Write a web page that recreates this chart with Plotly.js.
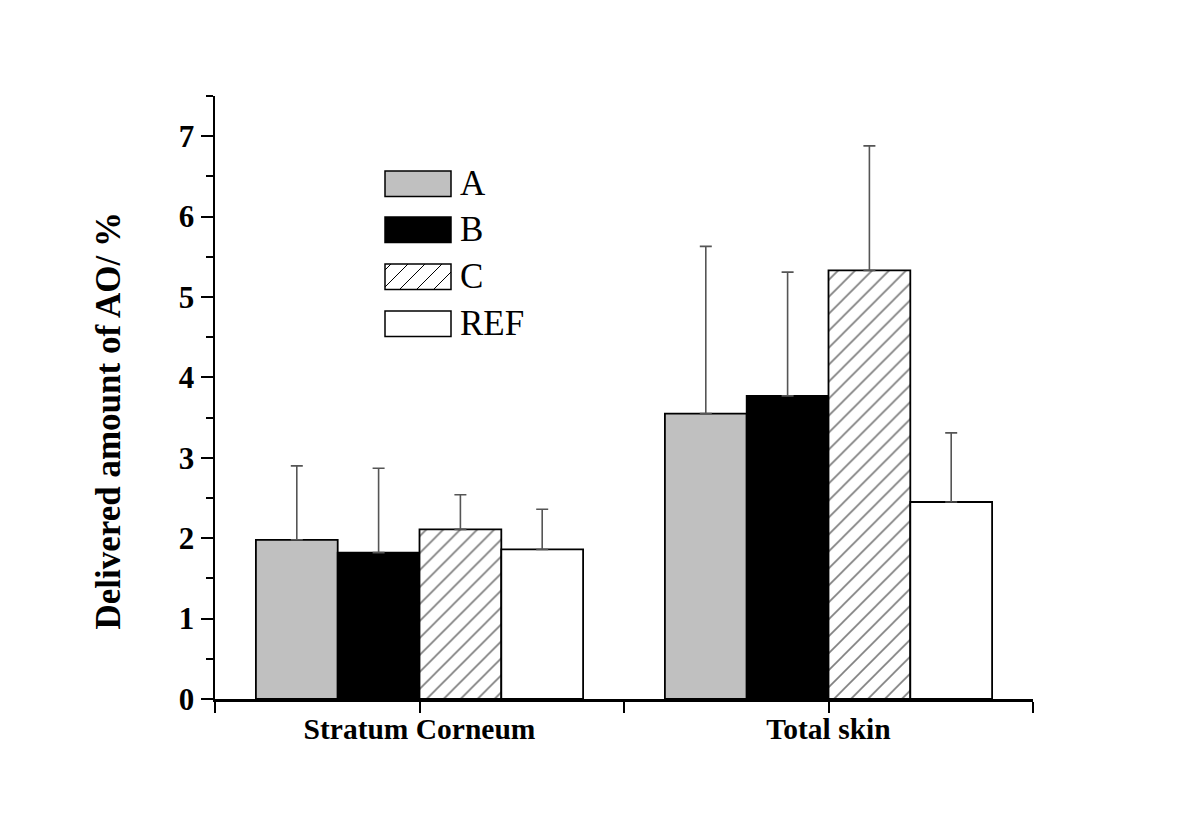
<!DOCTYPE html>
<html>
<head>
<meta charset="utf-8">
<script src="https://cdn.plot.ly/plotly-3.0.1.min.js"></script>
<style>html,body{margin:0;padding:0;background:#fff;}#chart{width:1200px;height:839px;}</style>
</head>
<body>
<div id="chart"></div>
<script>
// ---- data ----
const categories = ['Stratum Corneum', 'Total skin'];
const seriesNames = ['A', 'B', 'C', 'REF'];
const valuesA   = [1.98, 3.55];
const valuesB   = [1.82, 3.77];
const valuesC   = [2.11, 5.33];
const valuesREF = [1.86, 2.45];
const errA   = [0.92, 2.08];
const errB   = [1.05, 1.54];
const errC   = [0.43, 1.55];
const errREF = [0.50, 0.86];
const yTickVals = [0, 1, 2, 3, 4, 5, 6, 7];
const yTitle = 'Delivered amount of AO/ %';

// ---- layout constants ----
const W = 1200, H = 839;
const M = {l: 215, r: 167, t: 96, b: 140};
const PW = W - M.l - M.r, PH = H - M.t - M.b;
const px2x = p => (p - M.l) / PW;
const py2y = p => (H - M.b - p) / PH;

const xIdx = categories.map((c, i) => i);
const serif = 'Liberation Serif, Times New Roman, serif';

const styles = [
  {color: '#c0c0c0', pattern: null},
  {color: '#000000', pattern: null},
  {color: '#ffffff', pattern: {shape: '/', fgcolor: '#000000', bgcolor: '#ffffff', size: 12, solidity: 0.14, fillmode: 'overlay'}},
  {color: '#ffffff', pattern: null}
];
const vals = [valuesA, valuesB, valuesC, valuesREF];
const errs = [errA, errB, errC, errREF];

const traces = seriesNames.map((name, k) => {
  const marker = {color: styles[k].color, line: {color: '#000', width: 1.8}};
  if (styles[k].pattern) marker.pattern = styles[k].pattern;
  return {
    type: 'bar', name: name, x: xIdx, y: vals[k], marker: marker,
    error_y: {type: 'data', symmetric: false, array: errs[k], arrayminus: errs[k].map(() => 0),
              color: '#555555', thickness: 1.6, width: 6},
    showlegend: false, hoverinfo: 'skip'
  };
});

// ---- custom legend (large swatches) ----
const shapes = [], annotations = [];
const legTop = [171, 217, 264, 311], legX0 = 385, legX1 = 451, legH = 25.5;
seriesNames.forEach((name, k) => {
  const y0 = legTop[k], y1 = y0 + legH;
  shapes.push({type: 'rect', xref: 'paper', yref: 'paper',
    x0: px2x(legX0), x1: px2x(legX1), y0: py2y(y1), y1: py2y(y0),
    fillcolor: styles[k].color, line: {color: '#000', width: 1.5}});
  if (styles[k].pattern) {
    const sp = 17, h = legH;
    let d = '';
    for (let s = legX0 - h + 6; s < legX1; s += sp) {
      let xa = s, ya = y1, xb = s + h, yb = y0;
      if (xa < legX0) { ya = y1 - (legX0 - xa); xa = legX0; }
      if (xb > legX1) { yb = y0 + (xb - legX1); xb = legX1; }
      if (xb <= xa) continue;
      d += 'M' + px2x(xa) + ',' + py2y(ya) + 'L' + px2x(xb) + ',' + py2y(yb);
    }
    shapes.push({type: 'path', xref: 'paper', yref: 'paper', path: d, line: {color: '#000', width: 1}});
  }
  annotations.push({xref: 'paper', yref: 'paper', x: px2x(458), y: py2y(y0 + legH / 2),
    xanchor: 'left', yanchor: 'middle', text: name, showarrow: false,
    font: {family: serif, size: 35, color: '#000'}});
});

// y-axis title placed as a rotated annotation (offset from axis centre as in the original)
annotations.push({xref: 'paper', yref: 'paper', x: px2x(107.5), y: py2y(421),
  xanchor: 'center', yanchor: 'middle', textangle: -90, text: yTitle, showarrow: false,
  font: {family: serif, size: 35, color: '#000', weight: 'bold'}});

const layout = {
  width: W, height: H,
  margin: M,
  paper_bgcolor: '#fff', plot_bgcolor: '#fff',
  barmode: 'group', bargap: 0.2, bargroupgap: 0,
  showlegend: false,
  xaxis: {
    range: [-0.5, 1.5], tickmode: 'array',
    tickvals: [-0.5, 0, 0.5, 1, 1.5],
    ticktext: ['', categories[0], '', categories[1], ''],
    ticks: 'outside', ticklen: 11, tickwidth: 2, tickcolor: '#000',
    ticklabelstandoff: -9,
    showline: true, linecolor: '#000', linewidth: 2.5,
    showgrid: false, zeroline: false,
    tickfont: {family: serif, size: 29.5, color: '#000', weight: 'bold'}
  },
  yaxis: {
    range: [0, 7.5], tickmode: 'array', tickvals: yTickVals,
    ticks: 'outside', ticklen: 12, tickwidth: 2, tickcolor: '#000',
    minor: {dtick: 0.5, ticks: 'outside', ticklen: 7, tickwidth: 2, tickcolor: '#000'},
    showline: true, linecolor: '#000', linewidth: 2.5,
    showgrid: false, zeroline: false,
    tickfont: {family: serif, size: 31, color: '#000', weight: 'bold'}
  },
  shapes: shapes,
  annotations: annotations
};

Plotly.newPlot('chart', traces, layout, {displayModeBar: false, staticPlot: true});
</script>
</body>
</html>
